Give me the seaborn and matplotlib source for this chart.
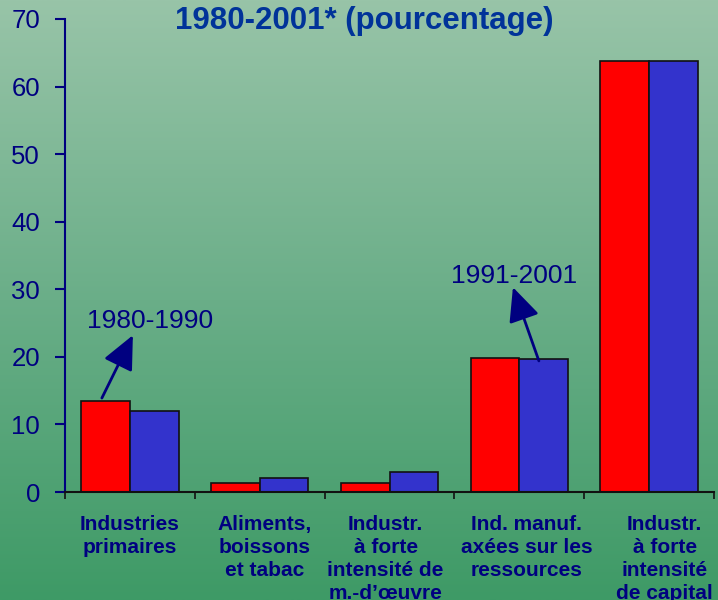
import numpy as np
import pandas as pd
import matplotlib
matplotlib.use("Agg")
import matplotlib.pyplot as plt
import seaborn as sns
from matplotlib.colors import LinearSegmentedColormap

categories = ["Industries\nprimaires", "Aliments,\nboissons\net tabac",
              "Industr.\nà forte\nintensité de\nm.-d\u2019œuvre",
              "Ind. manuf.\naxées sur les\nressources",
              "Industr.\nà forte\nintensité\nde capital"]
periods = ["1980-1990", "1991-2001"]
values_1980_1990 = [13.4, 1.4, 1.4, 19.9, 63.8]
values_1991_2001 = [12.0, 2.0, 2.9, 19.7, 63.8]
yticks = [0, 10, 20, 30, 40, 50, 60, 70]
title = "1980-2001* (pourcentage)"

df = pd.DataFrame({
    "cat": categories * 2,
    "period": [periods[0]] * len(categories) + [periods[1]] * len(categories),
    "value": values_1980_1990 + values_1991_2001,
})

sns.set_theme(style="white")
plt.rcParams['font.family'] = ['Liberation Sans', 'DejaVu Sans']

navy = "#000080"
fig = plt.figure(figsize=(7.18, 6.0), dpi=100)

# gradient background
bg = fig.add_axes([0, 0, 1, 1], zorder=-10)
cmap = LinearSegmentedColormap.from_list("g", ["#98C4A8", "#6AAE88", "#3E9A66"])
grad = np.linspace(0, 1, 256).reshape(-1, 1)
bg.imshow(grad, aspect="auto", cmap=cmap, extent=[0, 1, 0, 1], origin="upper")
bg.axis("off")

ax = fig.add_axes([65 / 718, 108 / 600, 649 / 718, 473 / 600])
ax.patch.set_alpha(0)
sns.barplot(data=df, x="cat", y="value", hue="period", order=categories,
            hue_order=periods, palette=["#FF0000", "#3333CC"], width=0.75,
            edgecolor="#111111", linewidth=1.2, saturation=1, ax=ax)
ax.get_legend().remove()
ax.set_xlim(-0.5, 4.5)
ax.set_ylim(0, 70)
ax.set_yticks(yticks)
ax.set_yticklabels([str(t) for t in yticks], fontsize=18.5, color=navy)
ax.set_xticks(np.arange(-0.5, 5, 1))
ax.set_xticklabels([])
ax.set_xlabel("")
ax.set_ylabel("")
for s in ["top", "right"]:
    ax.spines[s].set_visible(False)
ax.spines["left"].set_color(navy)
ax.spines["left"].set_linewidth(1.5)
ax.spines["bottom"].set_color("#111111")
ax.spines["bottom"].set_linewidth(1.5)
ax.tick_params(axis="y", which="major", direction="out", length=7, width=1.5,
               color=navy, pad=11, left=True)
ax.tick_params(axis="x", which="major", direction="out", length=5, width=1.2,
               color="#111111", bottom=True)

# category labels (small horizontal offsets as in the original slide)
label_dx = [0.0, 0.04, -0.03, 0.055, 0.12]
for i, c in enumerate(categories):
    ax.text(i + label_dx[i], -0.048, c, transform=ax.get_xaxis_transform(),
            ha="center", va="top", fontsize=15, fontweight="bold", color=navy,
            linespacing=1.27)

# annotations
ax.annotate("", xy=(0.023, 23.2), xytext=(-0.216, 13.9),
            arrowprops=dict(arrowstyle="-|>,head_length=1.3,head_width=0.6",
                            color=navy, lw=2, mutation_scale=16, shrinkA=0, shrinkB=0))
ax.text(0.154, 24.3, periods[0], ha="center", va="baseline", fontsize=19, color=navy)
ax.annotate("", xy=(2.951, 30.3), xytext=(3.151, 19.4),
            arrowprops=dict(arrowstyle="-|>,head_length=1.3,head_width=0.6",
                            color=navy, lw=2, mutation_scale=16, shrinkA=0, shrinkB=0))
ax.text(2.962, 30.9, periods[1], ha="center", va="baseline", fontsize=19, color=navy)

fig.text(364 / 718, 1 - 21 / 600, title, ha="center", va="center",
         fontsize=22.5, fontweight="bold", color="#003399")

fig.savefig("out.png", dpi=100)
